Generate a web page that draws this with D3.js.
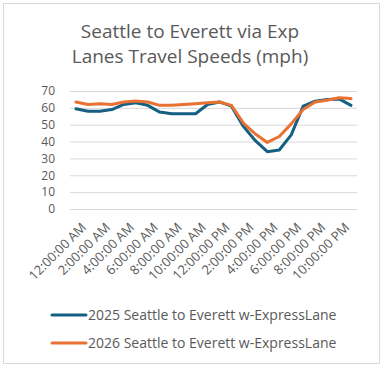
<!DOCTYPE html>
<html>
<head>
<meta charset="utf-8">
<script src="https://cdn.jsdelivr.net/npm/d3@7"></script>
<style>
  body { margin: 0; background: #fff; }
  text { font-family: "Open Sans", "Liberation Sans", sans-serif; fill: #595959; }
</style>
</head>
<body>
<div id="chart"></div>
<script>
// Seattle to Everett, express lanes, hourly speed (mph)
var hours = ["12:00:00 AM", "1:00:00 AM", "2:00:00 AM", "3:00:00 AM", "4:00:00 AM", "5:00:00 AM",
    "6:00:00 AM", "7:00:00 AM", "8:00:00 AM", "9:00:00 AM", "10:00:00 AM", "11:00:00 AM",
    "12:00:00 PM", "1:00:00 PM", "2:00:00 PM", "3:00:00 PM", "4:00:00 PM", "5:00:00 PM",
    "6:00:00 PM", "7:00:00 PM", "8:00:00 PM", "9:00:00 PM", "10:00:00 PM", "11:00:00 PM"];

var speeds2025 = [59.5, 58, 58, 59, 62, 63, 61.5, 57.5, 56.5, 56.5, 56.5, 62,
    63.5, 61, 49, 40.5, 34, 35, 44, 61, 64, 65, 65.3, 61.5];

var speeds2026 = [63.5, 62, 62.5, 62, 63.5, 64, 63.5, 61.5, 61.5, 62, 62.5, 63,
    63.5, 61.5, 51, 44.5, 39.5, 43, 50.5, 59, 63.5, 64.5, 66, 65.5];

var seriesNames = ["2025 Seattle to Everett w-ExpressLane", "2026 Seattle to Everett w-ExpressLane"];
var colors = ["#156082", "#e97132"];
var yTicks = [0, 10, 20, 30, 40, 50, 60, 70];

var width = 383, height = 369;
var margin = { top: 91, right: 26, bottom: 160, left: 70 };

var svg = d3.select("#chart")
    .append("svg")
    .attr("width", width)
    .attr("height", height);

// marco del grafico
svg.append("rect")
    .attr("x", 3.5).attr("y", 3.5)
    .attr("width", 376).attr("height", 360)
    .attr("fill", "#fff")
    .attr("stroke", "#d9d9d9");

svg.append("text")
    .attr("x", 190).attr("y", 38)
    .attr("text-anchor", "middle")
    .style("font-size", "19px")
    .text("Seattle to Everett via Exp");
svg.append("text")
    .attr("x", 190).attr("y", 63)
    .attr("text-anchor", "middle")
    .style("font-size", "19px")
    .text("Lanes Travel Speeds (mph)");

var x = d3.scaleBand()
    .domain(hours)
    .range([margin.left, width - margin.right]);

var y = d3.scaleLinear()
    .domain([0, 70])
    .range([height - margin.bottom, margin.top]);

var g = svg.append("g");

// lineas de cuadricula
var yAxis = d3.axisLeft(y)
    .tickValues(yTicks)
    .tickSize(-(width - margin.right - margin.left))
    .tickPadding(15)
    .tickFormat(d3.format("d"));

g.append("g")
    .attr("transform", "translate(" + margin.left + ",0)")
    .call(yAxis)
    .call(function(a) {
        a.select(".domain").remove();
        a.selectAll(".tick line").attr("stroke", "#d9d9d9");
        a.selectAll(".tick text").style("font-size", "12px");
    });

var xAxis = d3.axisBottom(x)
    .tickValues(hours.filter(function(d, i) { return i % 2 === 0; }))
    .tickSize(0);

g.append("g")
    .attr("transform", "translate(0," + (height - margin.bottom) + ")")
    .call(xAxis)
    .call(function(a) {
        a.select(".domain").remove();
        a.selectAll(".tick text")
            .style("font-size", "13px")
            .attr("text-anchor", "end")
            .attr("dx", 0)
            .attr("dy", 0)
            .attr("transform", "translate(9,17) rotate(-45)");
    });

var line = d3.line()
    .x(function(d, i) { return x(hours[i]) + x.bandwidth() / 2; })
    .y(function(d) { return y(d); });

[speeds2025, speeds2026].forEach(function(s, k) {
    g.append("path")
        .datum(s)
        .attr("fill", "none")
        .attr("stroke", colors[k])
        .attr("stroke-width", 3)
        .attr("stroke-linejoin", "round")
        .attr("stroke-linecap", "round")
        .attr("d", line);
});

var legend = svg.append("g");
seriesNames.forEach(function(n, k) {
    var ly = 315 + k * 28;
    legend.append("line")
        .attr("x1", 52).attr("x2", 86)
        .attr("y1", ly).attr("y2", ly)
        .attr("stroke", colors[k])
        .attr("stroke-width", 3)
        .attr("stroke-linecap", "round");
    legend.append("text")
        .attr("x", 88).attr("y", ly + 5)
        .style("font-size", "14px")
        .text(n);
});
</script>
</body>
</html>
